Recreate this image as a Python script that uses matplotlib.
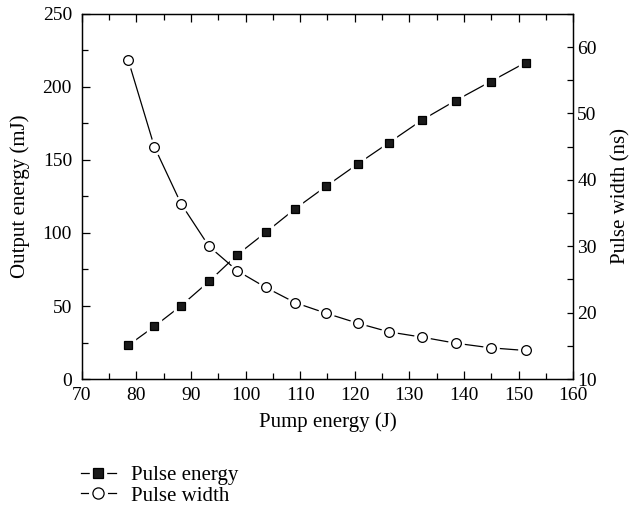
import numpy as np
import matplotlib
matplotlib.use('Agg')
import matplotlib.pyplot as plt
from matplotlib.legend_handler import HandlerTuple
from matplotlib.ticker import MultipleLocator

plt.rcParams['font.family'] = ['Liberation Serif', 'DejaVu Serif']
plt.rcParams['font.size'] = 15

# Pump energy (J)
pump = [78.5, 83.3, 88.2, 93.3, 98.5, 103.7, 109.1, 114.8, 120.6, 126.3, 132.4, 138.5, 144.9, 151.3]
# Output pulse energy (mJ)
energy = [23.0, 36.0, 50.2, 66.8, 85.1, 100.4, 116.6, 132.1, 147.4, 161.9, 177.5, 190.7, 203.7, 216.7]
# Pulse width (ns)
width = [58.1, 45.0, 36.4, 30.0, 26.3, 23.8, 21.5, 19.9, 18.4, 17.1, 16.3, 15.4, 14.7, 14.3]

fig = plt.figure(figsize=(6.3, 5.15), dpi=100)
ax = fig.add_axes([0.1297, 0.264, 0.78, 0.709])
ax2 = ax.twinx()

def draw(a, x, y, marker, face, ms):
    # line, white halo so the line stops short of the marker, then the marker
    l, = a.plot(x, y, color='black', lw=0.9, zorder=2)
    h, = a.plot(x, y, ls='none', marker=marker, ms=ms + 4, mfc='white', mec='white', zorder=3)
    m, = a.plot(x, y, ls='none', marker=marker, ms=ms, mfc=face, mec='black', mew=0.9, zorder=4)
    return (l, h, m)

e_handles = draw(ax, pump, energy, 's', '#1a1a1a', 6.3)
w_handles = draw(ax2, pump, width, 'o', 'white', 7.0)

ax.set_xlim(70, 160)
ax.set_ylim(0, 250)
ax2.set_ylim(10, 65)

ax.xaxis.set_major_locator(MultipleLocator(10))
ax.xaxis.set_minor_locator(MultipleLocator(5))
ax.yaxis.set_major_locator(MultipleLocator(50))
ax.yaxis.set_minor_locator(MultipleLocator(25))
ax2.yaxis.set_major_locator(MultipleLocator(10))
ax2.yaxis.set_minor_locator(MultipleLocator(5))

ax.tick_params(which='both', direction='in', top=True, right=False, width=0.9, labelsize=14)
ax.tick_params(which='major', length=5.5)
ax.tick_params(which='minor', length=4.5)
ax.tick_params(axis='y', which='both', pad=7)
ax.tick_params(axis='x', which='both', pad=6)
ax2.tick_params(which='both', direction='in', width=0.9, length=4, pad=3, labelsize=14)

for a in (ax, ax2):
    for s in a.spines.values():
        s.set_linewidth(0.9)

ax.set_xlabel('Pump energy (J)', labelpad=6)
ax.set_ylabel('Output energy (mJ)', labelpad=9)
ax2.set_ylabel('Pulse width (ns)', labelpad=10)

fig.legend([e_handles, w_handles], ['Pulse energy', 'Pulse width'],
           handler_map={tuple: HandlerTuple(ndivide=1)},
           loc='upper left', bbox_to_anchor=(0.128, 0.096), frameon=False,
           fontsize=15, borderpad=0, borderaxespad=0, markerscale=1.15,
           handlelength=1.7, labelspacing=0.05, handletextpad=0.7)

fig.savefig('out.png', dpi=100)
